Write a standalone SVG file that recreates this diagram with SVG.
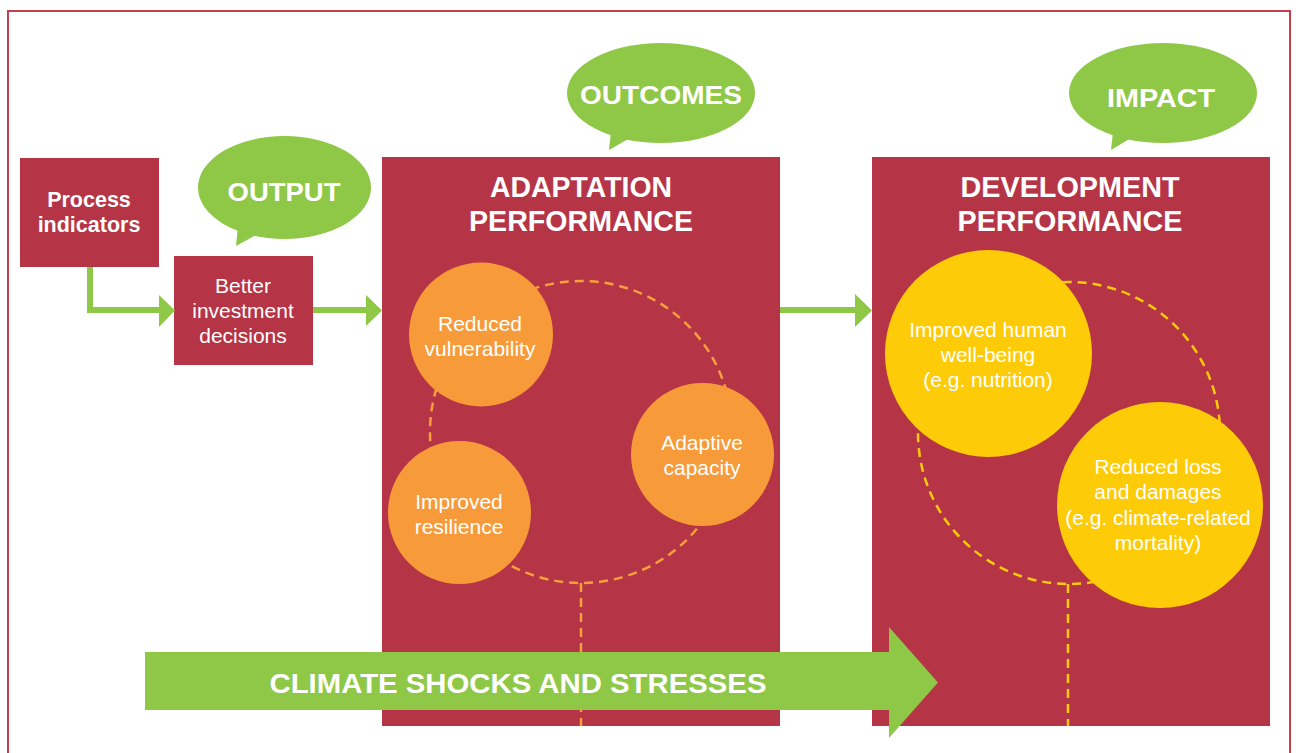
<svg xmlns="http://www.w3.org/2000/svg" width="1296" height="753" viewBox="0 0 1296 753">
<style>
.box{fill:#b53446}
.bub{fill:#8fc747}
.bt{font-family:"Liberation Sans",Arial,sans-serif;font-weight:bold;fill:#fff;text-anchor:middle}
.tt{font-family:"Liberation Sans",Arial,sans-serif;font-weight:bold;fill:#fff;text-anchor:middle;font-size:29px}
.ct{font-family:"Liberation Sans",Arial,sans-serif;fill:#fff;text-anchor:middle;font-size:21px}
.dsh{fill:none;stroke-width:2.5;stroke-dasharray:9 6}
.line{fill:none;stroke:#8fc747;stroke-width:6}
.head{fill:#8fc747}
</style>
<rect x="8" y="11" width="1282" height="770" fill="#fff" stroke="#c0404f" stroke-width="2"/>

<g id="process-indicators">
<rect class="box" x="20" y="158" width="139" height="109"/>
<text class="bt" font-size="21.5" x="89" y="207">Process</text>
<text class="bt" font-size="21.5" x="89" y="232">indicators</text>
</g>

<g id="output-bubble">
<ellipse class="bub" cx="284.5" cy="187.5" rx="86.5" ry="51.5"/>
<path class="bub" d="M238,226 L236,246 L258,234 Z"/>
<text class="bt" font-size="26" x="284" y="201" textLength="113" lengthAdjust="spacingAndGlyphs">OUTPUT</text>
</g>

<g id="better-investment">
<rect class="box" x="174" y="256" width="139" height="109"/>
<text class="ct" x="243" y="293">Better</text>
<text class="ct" x="243" y="318">investment</text>
<text class="ct" x="243" y="343">decisions</text>
</g>

<g id="adaptation-performance">
<rect class="box" x="382" y="157" width="398" height="569"/>
<text class="tt" x="581" y="197" textLength="182" lengthAdjust="spacingAndGlyphs">ADAPTATION</text>
<text class="tt" x="581" y="231" textLength="224" lengthAdjust="spacingAndGlyphs">PERFORMANCE</text>
<circle class="dsh" stroke="#f7a03c" cx="581" cy="432" r="151"/>
<line class="dsh" stroke="#f7a03c" x1="581" y1="583" x2="581" y2="726"/>
</g>

<g id="outcomes-bubble">
<ellipse class="bub" cx="661" cy="93" rx="94" ry="50"/>
<path class="bub" d="M611,132 L609,150 L630,138 Z"/>
<text class="bt" font-size="26" x="661" y="104" textLength="162" lengthAdjust="spacingAndGlyphs">OUTCOMES</text>
</g>

<g id="reduced-vulnerability">
<circle fill="#f79b3a" cx="481" cy="334.5" r="72"/>
<text class="ct" x="480" y="331">Reduced</text>
<text class="ct" x="480" y="356">vulnerability</text>
</g>

<g id="adaptive-capacity">
<circle fill="#f79b3a" cx="702.5" cy="454.5" r="71.5"/>
<text class="ct" x="702" y="450">Adaptive</text>
<text class="ct" x="702" y="475">capacity</text>
</g>

<g id="improved-resilience">
<circle fill="#f79b3a" cx="459.5" cy="512.5" r="71.5"/>
<text class="ct" x="459" y="509">Improved</text>
<text class="ct" x="459" y="534">resilience</text>
</g>

<g id="development-performance">
<rect class="box" x="872" y="157" width="398" height="569"/>
<text class="tt" x="1070" y="197" textLength="219" lengthAdjust="spacingAndGlyphs">DEVELOPMENT</text>
<text class="tt" x="1070" y="231" textLength="225" lengthAdjust="spacingAndGlyphs">PERFORMANCE</text>
<circle class="dsh" stroke="#fecb0a" cx="1069" cy="433" r="151"/>
<line class="dsh" stroke="#fecb0a" x1="1068" y1="584" x2="1068" y2="726"/>
</g>

<g id="impact-bubble">
<ellipse class="bub" cx="1163" cy="93" rx="94" ry="50"/>
<path class="bub" d="M1113,132 L1111,150 L1131,138 Z"/>
<text class="bt" font-size="26" x="1161" y="107" textLength="108" lengthAdjust="spacingAndGlyphs">IMPACT</text>
</g>

<g id="human-wellbeing">
<circle fill="#fecb08" cx="988.5" cy="353.5" r="103.5"/>
<text class="ct" x="988" y="337">Improved human</text>
<text class="ct" x="988" y="362">well-being</text>
<text class="ct" x="988" y="387">(e.g. nutrition)</text>
</g>

<g id="reduced-loss">
<circle fill="#fecb08" cx="1160" cy="505" r="103"/>
<text class="ct" x="1158" y="474">Reduced loss</text>
<text class="ct" x="1158" y="499">and damages</text>
<text class="ct" x="1158" y="525">(e.g. climate-related</text>
<text class="ct" x="1158" y="550">mortality)</text>
</g>

<g id="connectors">
<path class="line" d="M90,267 V310 H160"/>
<path class="head" d="M159,295 L175,310.5 L159,327 Z"/>
<path class="line" d="M313,310 H367"/>
<path class="head" d="M366,295 L382,310.5 L366,326 Z"/>
<path class="line" d="M780,310 H857"/>
<path class="head" d="M855,294 L872,310.5 L855,327 Z"/>
</g>

<g id="climate-shocks">
<path class="head" d="M145,652 H889 V627 L938,682.5 L889,738 V710 H145 Z"/>
<text class="bt" font-size="28" x="518" y="693" textLength="497" lengthAdjust="spacingAndGlyphs">CLIMATE SHOCKS AND STRESSES</text>
</g>
</svg>
